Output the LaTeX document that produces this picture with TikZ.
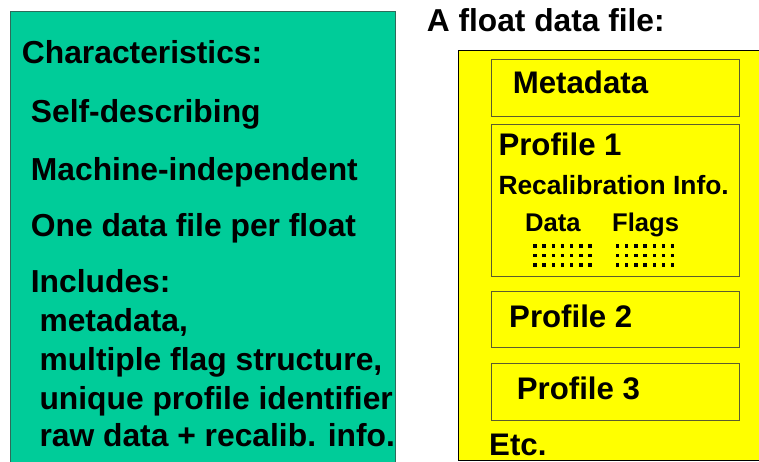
\documentclass[tikz,border=0pt]{standalone}
\usepackage{fontspec}
\setmainfont{Liberation Sans}
\definecolor{tealg}{HTML}{00CC99}
\definecolor{tealb}{HTML}{2E6B5A}
\definecolor{yel}{HTML}{FFFF00}
\definecolor{olive}{HTML}{5C5C2E}
\begin{document}
\begin{tikzpicture}[x=1pt,y=-1pt,
  txt/.style={anchor=base west,inner sep=0pt,font=\fontsize{31.8}{31.8}\selectfont\bfseries},
  ptxt/.style={anchor=base west,inner sep=0pt,font=\fontsize{31.2}{31.2}\selectfont\bfseries},
  smalltxt/.style={anchor=base west,inner sep=0pt,font=\fontsize{26.4}{26.4}\selectfont\bfseries},
  dottxt/.style={anchor=base west,inner sep=0pt,font=\fontsize{25.6}{25.6}\selectfont\bfseries},
  innerbox/.style={draw=olive,line width=1pt,fill=yel},
  dotsq/.style={fill=black}]
\useasboundingbox (0,0) rectangle (759,461);
% left panel
\draw[tealb,line width=1pt,fill=tealg] (10.7,11) rectangle (395,462);
\node[txt] (ch) at (21.7,63.3) {Characteristics:};
\node[txt] (sd) at (30.7,122.3) {Self-describing};
\node[txt] (mi) at (30.7,180.7) {Machine-independent};
\node[txt] (od) at (30.7,236.7) {One data file per float};
\node[txt] (inc) at (30.7,292) {Includes:};
\node[txt] (md) at (39.3,331.7) {metadata,};
\node[txt] (mf) at (39.3,370.7) {multiple flag structure,};
\node[txt] (up) at (39.3,409.3) {unique profile identifier};
\node[txt] (rd) at (39.3,446.7) {raw data + recalib. info.};
% right panel
\node[txt,font=\fontsize{31.7}{31.7}\selectfont\bfseries] (title) at (426.7,31.7) {A float data file:};
\draw[black,line width=1pt,fill=yel] (760,50.7) -- (458.3,50.7) -- (458.3,460) -- (760,460);
\draw[innerbox] (491,59) rectangle (739.3,116);
\node[ptxt] (meta) at (512.7,93.3) {Metadata};
\draw[innerbox] (491,124) rectangle (739.3,276);
\node[ptxt] (p1) at (498.3,155.7) {Profile 1};
\node[smalltxt] (rc) at (498.3,194.3) {Recalibration Info.};
\node[dottxt] (dt) at (525,231.7) {Data};
\node[dottxt] (fl) at (612,231.7) {Flags};
\foreach \c in {0,...,6}{
  \foreach \r in {246,255.5,265}{
    \fill[dotsq] (535-1.7+\c*9.17,\r-1.7) rectangle ++(3.4,3.4);
    \fill[dotsq] (617.5-1.7+\c*9.2,\r-1.7) rectangle ++(3.4,3.4);
  }
}
\draw[innerbox] (491,291.7) rectangle (739.3,347.7);
\node[ptxt] (p2) at (509,327.3) {Profile 2};
\draw[innerbox] (491,363.3) rectangle (739.3,420);
\node[ptxt] (p3) at (516.7,399.3) {Profile 3};
\node[ptxt] (etc) at (489,455.7) {Etc.};
\end{tikzpicture}
\end{document}
